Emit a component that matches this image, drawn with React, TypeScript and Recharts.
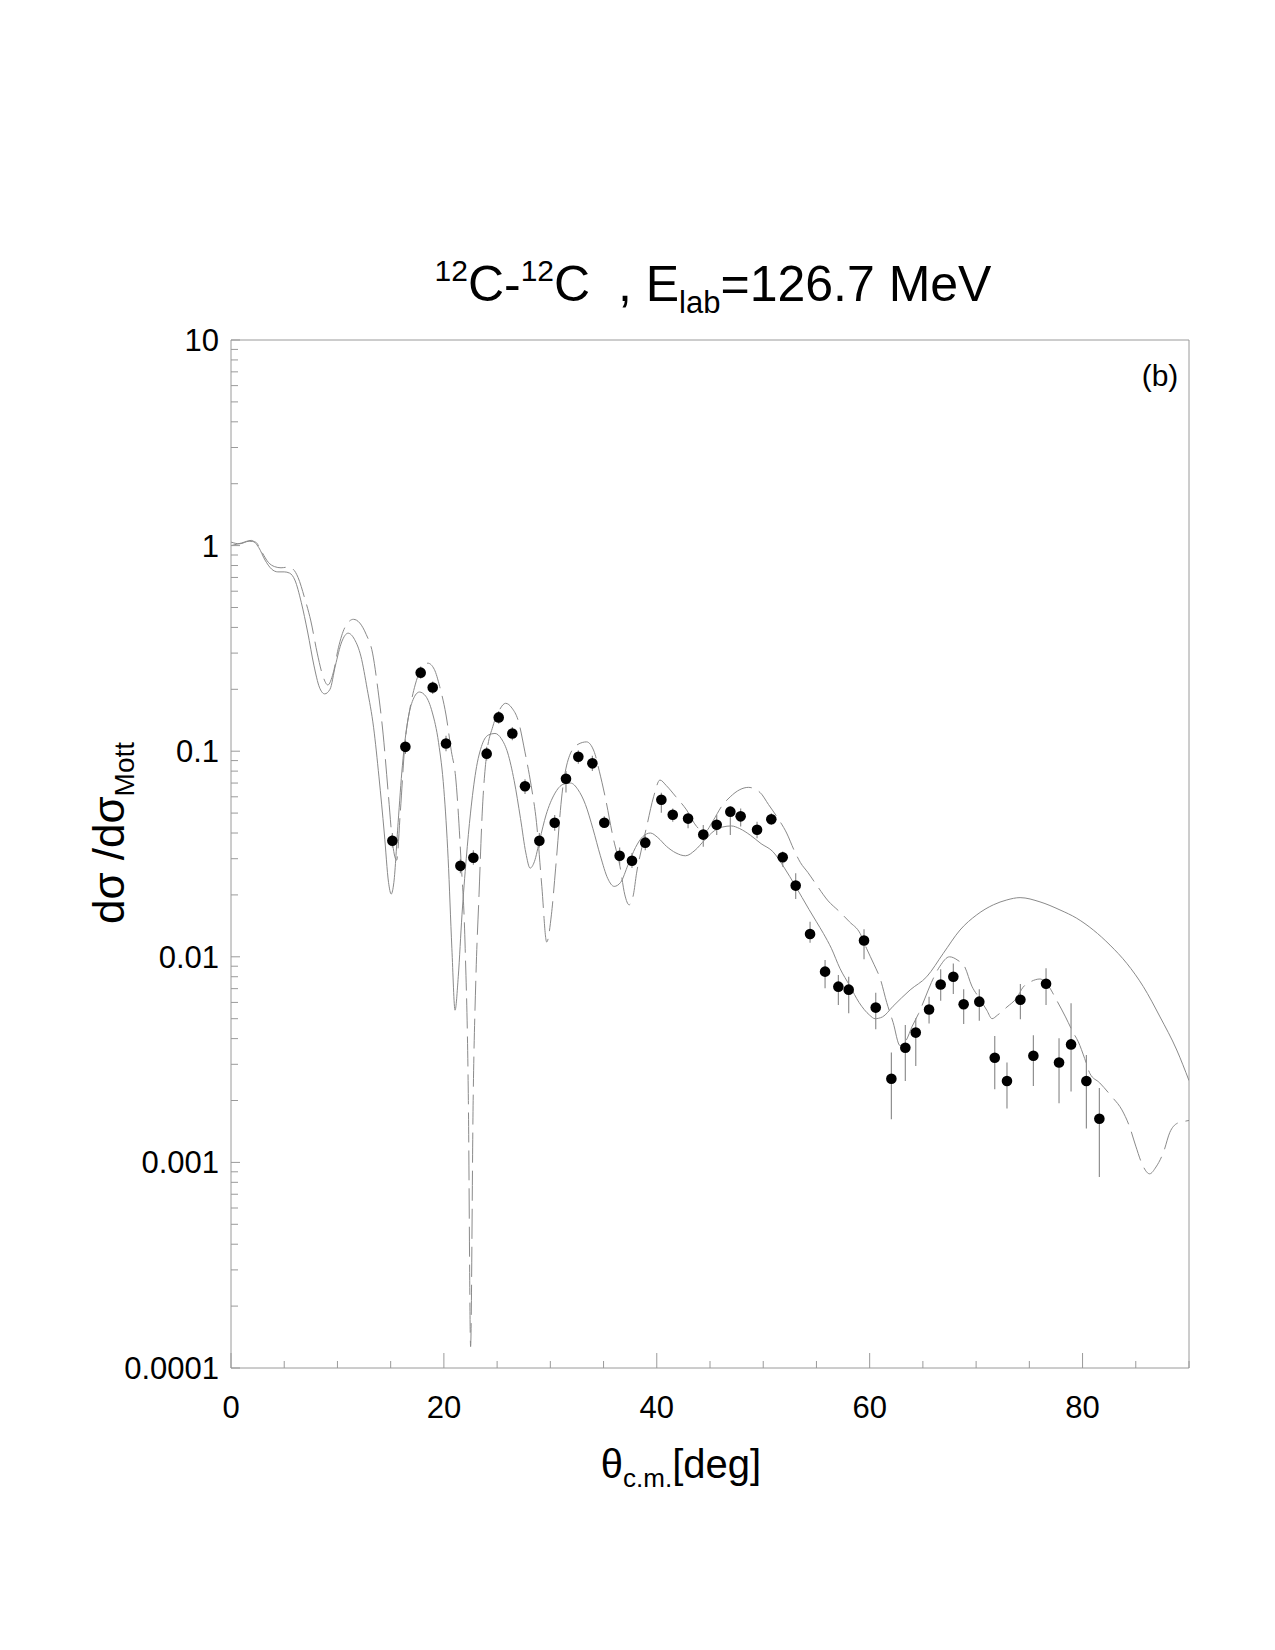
import React from 'react';
import { ComposedChart, Line, Scatter, XAxis, YAxis, ErrorBar, ReferenceLine } from 'recharts';

// ---------- data ----------
// Solid curve (theta [deg], dsigma/dsigma_Mott)
const solidTheta = [0, 1.0, 1.9, 2.6, 3.2, 3.8, 4.4, 5.0, 5.5, 6.0, 6.6, 7.2, 7.8, 8.3, 8.8, 9.3, 9.8, 10.4, 11.0, 11.6, 12.2, 12.8, 13.4, 13.9, 14.4, 14.8, 15.05, 15.3, 15.7, 16.1, 16.6, 17.1, 17.7, 18.3, 18.9, 19.5, 20.0, 20.4, 20.75, 21.05, 21.35, 21.7, 22.1, 22.5, 23.0, 23.6, 24.2, 24.8, 25.4, 26.0, 26.6, 27.2, 27.7, 28.1, 28.5, 29.0, 29.6, 30.4, 31.2, 31.9, 32.6, 33.3, 34.0, 34.7, 35.4, 36.0, 36.6, 37.3, 38.0, 38.7, 39.4, 40.1, 40.9, 41.8, 42.7, 43.6, 44.5, 45.4, 46.2, 47.0, 47.8, 48.8, 49.8, 50.9, 52.0, 53.0, 54.3, 55.0, 55.65, 56.4, 57.2, 58.15, 59.0, 60.0, 60.5, 61.2, 62.2, 63.8, 65.36, 66.92, 68.49, 70.06, 71.62, 72.88, 74.13, 76.0, 77.88, 79.45, 81.01, 82.58, 84.15, 85.71, 87.28, 88.85, 90.0];
const solidValue = [1.0, 1.03, 1.06, 0.98, 0.85, 0.77, 0.745, 0.745, 0.735, 0.68, 0.53, 0.38, 0.26, 0.205, 0.19, 0.2, 0.26, 0.34, 0.375, 0.35, 0.29, 0.2, 0.13, 0.075, 0.04, 0.023, 0.0202, 0.023, 0.045, 0.085, 0.14, 0.178, 0.194, 0.185, 0.155, 0.11, 0.065, 0.03, 0.011, 0.0055, 0.008, 0.016, 0.03, 0.05, 0.08, 0.108, 0.12, 0.122, 0.115, 0.098, 0.072, 0.047, 0.032, 0.027, 0.029, 0.037, 0.049, 0.062, 0.069, 0.07, 0.065, 0.055, 0.042, 0.031, 0.024, 0.022, 0.023, 0.028, 0.034, 0.0385, 0.04, 0.038, 0.0345, 0.032, 0.031, 0.033, 0.037, 0.041, 0.0428, 0.0433, 0.042, 0.039, 0.0355, 0.0325, 0.027, 0.0222, 0.017, 0.0148, 0.013, 0.011, 0.0088, 0.0072, 0.006, 0.0052, 0.005, 0.0051, 0.00575, 0.0069, 0.008, 0.0104, 0.0135, 0.016, 0.0179, 0.0189, 0.0194, 0.0185, 0.0169, 0.0154, 0.0135, 0.0114, 0.0093, 0.00716, 0.0051, 0.00352, 0.0025];

// Dashed curve
const dashedTheta = [0, 0.8, 1.7, 2.3, 2.9, 3.5, 4.1, 4.7, 5.3, 5.8, 6.3, 6.9, 7.5, 8.1, 8.6, 9.1, 9.6, 10.1, 10.7, 11.5, 12.1, 12.7, 13.3, 13.8, 14.3, 14.8, 15.2, 15.56, 15.9, 16.35, 16.8, 17.3, 17.8, 18.5, 19.1, 19.6, 20.2, 20.7, 21.1, 21.6, 22.0, 22.3, 22.51, 22.75, 23.0, 23.3, 23.6, 24.0, 24.6, 25.2, 25.8, 26.4, 27.0, 27.6, 28.2, 28.7, 29.2, 29.66, 30.1, 30.5, 31.1, 31.8, 32.6, 33.4, 34.1, 34.6, 35.15, 35.9, 36.55, 37.0, 37.4, 37.8, 38.1, 38.6, 39.05, 39.7, 40.3, 40.9, 41.8, 42.8, 43.75, 44.5, 45.3, 46.1, 46.9, 47.8, 48.6, 49.7, 50.5, 51.4, 52.2, 52.9, 53.5, 54.2, 55.1, 56.1, 57.1, 58.1, 59.1, 59.7, 60.4, 61.0, 61.6, 62.2, 62.85, 63.4, 64.0, 64.6, 65.2, 65.8, 66.6, 67.5, 68.3, 68.9, 69.6, 70.3, 71.0, 71.5, 72.0, 72.9, 73.8, 74.4, 75.2, 76.0, 76.8, 77.6, 78.4, 79.1, 79.6, 80.2, 80.7, 81.6, 82.7, 83.7, 84.4, 85.0, 85.6, 86.3, 86.9, 87.6, 88.2, 88.9, 89.5, 90.0];
const dashedValue = [1.04, 1.02, 1.05, 1.04, 0.93, 0.83, 0.79, 0.78, 0.785, 0.77, 0.7, 0.56, 0.43, 0.3, 0.235, 0.21, 0.24, 0.32, 0.4, 0.438, 0.42, 0.37, 0.3, 0.2, 0.12, 0.06, 0.035, 0.0295, 0.05, 0.11, 0.16, 0.21, 0.248, 0.268, 0.25, 0.207, 0.15, 0.1, 0.075, 0.03, 0.011, 0.002, 0.000127, 0.002, 0.0077, 0.02, 0.05, 0.095, 0.132, 0.158, 0.171, 0.162, 0.14, 0.1, 0.068, 0.045, 0.022, 0.0118, 0.016, 0.027, 0.062, 0.095, 0.108, 0.111, 0.1, 0.08, 0.06, 0.038, 0.0274, 0.02, 0.0179, 0.02, 0.0255, 0.034, 0.043, 0.06, 0.0724, 0.068, 0.06, 0.0518, 0.043, 0.0405, 0.046, 0.054, 0.06, 0.065, 0.0667, 0.063, 0.055, 0.047, 0.04, 0.033, 0.0287, 0.0257, 0.022, 0.0187, 0.0167, 0.0148, 0.013, 0.011, 0.0092, 0.0078, 0.006, 0.0048, 0.0037, 0.0039, 0.0046, 0.0053, 0.0063, 0.0075, 0.009, 0.01, 0.0096, 0.009, 0.0072, 0.0063, 0.0055, 0.005, 0.0052, 0.0057, 0.0063, 0.0071, 0.0076, 0.0078, 0.0072, 0.0061, 0.0051, 0.0043, 0.00386, 0.0032, 0.0027, 0.00244, 0.0021, 0.0018, 0.0015, 0.0012, 0.00098, 0.00088, 0.00095, 0.00112, 0.0014, 0.00155, 0.00158, 0.0016];

// Experimental points with error bars (lower / upper values)
const expTheta = [15.16, 16.38, 17.82, 18.95, 20.2, 21.55, 22.77, 24.02, 25.15, 26.43, 27.62, 28.97, 30.41, 31.47, 32.63, 33.95, 35.07, 36.51, 37.67, 38.92, 40.43, 41.5, 42.94, 44.37, 45.63, 46.91, 47.88, 49.42, 50.76, 51.83, 53.05, 54.4, 55.81, 57.06, 58.03, 59.47, 60.57, 62.04, 63.35, 64.33, 65.58, 66.67, 67.86, 68.83, 70.3, 71.75, 72.9, 74.16, 75.38, 76.57, 77.79, 78.92, 80.36, 81.58];
const expValue = [0.0367, 0.105, 0.241, 0.204, 0.109, 0.0277, 0.0303, 0.0973, 0.146, 0.122, 0.0675, 0.0367, 0.0449, 0.0735, 0.094, 0.0873, 0.0449, 0.031, 0.0293, 0.0359, 0.0581, 0.0491, 0.047, 0.0393, 0.0439, 0.0508, 0.0482, 0.0415, 0.0467, 0.0305, 0.0222, 0.0129, 0.00847, 0.00716, 0.00692, 0.012, 0.00566, 0.00255, 0.00361, 0.00428, 0.00554, 0.00733, 0.008, 0.00588, 0.00605, 0.00323, 0.00249, 0.00618, 0.0033, 0.0074, 0.00306, 0.00375, 0.00249, 0.00163];
const expLow = [0.034, 0.097, 0.225, 0.19, 0.1, 0.0255, 0.028, 0.09, 0.136, 0.113, 0.062, 0.034, 0.041, 0.063, 0.087, 0.08, 0.0424, 0.028, 0.027, 0.033, 0.0502, 0.0454, 0.0422, 0.0343, 0.0391, 0.0391, 0.043, 0.0377, 0.0438, 0.0274, 0.0191, 0.0117, 0.00703, 0.00583, 0.00531, 0.00973, 0.00444, 0.00162, 0.00249, 0.00294, 0.00474, 0.00612, 0.00659, 0.00471, 0.00489, 0.00227, 0.00183, 0.00497, 0.00235, 0.00583, 0.00194, 0.00221, 0.00146, 0.00085];
const expHigh = [0.04, 0.114, 0.258, 0.218, 0.119, 0.03, 0.033, 0.105, 0.157, 0.131, 0.073, 0.04, 0.049, 0.08, 0.101, 0.095, 0.0482, 0.034, 0.032, 0.039, 0.0628, 0.0527, 0.0499, 0.0438, 0.0489, 0.0537, 0.0527, 0.0454, 0.0499, 0.0325, 0.0255, 0.0148, 0.00965, 0.00815, 0.008, 0.0136, 0.00668, 0.00342, 0.00466, 0.00502, 0.0064, 0.00869, 0.00929, 0.00695, 0.00695, 0.00412, 0.00306, 0.00738, 0.00415, 0.00879, 0.00402, 0.00594, 0.00333, 0.0023];

// Axes ticks and labels
const xTicks = [0, 5, 10, 15, 20, 25, 30, 35, 40, 45, 50, 55, 60, 65, 70, 75, 80, 85, 90];
const xLabelTicks = [0, 20, 40, 60, 80];
const yMajorTicks = [0.0001, 0.001, 0.01, 0.1, 1, 10];
const yMajorLabels = ['0.0001', '0.001', '0.01', '0.1', '1', '10'];
const yMinorFactors = [2, 3, 4, 5, 6, 7, 8, 9];

// ---------- build tables ----------
const solidData = solidTheta.map((x, i) => ({ x, y: solidValue[i] }));
const dashedData = dashedTheta.map((x, i) => ({ x, y: dashedValue[i] }));
const expData = expTheta.map((x, i) => ({
  x,
  y: expValue[i],
  err: [expValue[i] - expLow[i], expHigh[i] - expValue[i]],
}));
const yTicks: number[] = [...yMajorTicks];
yMajorTicks.slice(0, -1).forEach((m) => yMinorFactors.forEach((f) => yTicks.push(m * f)));

// ---------- style ----------
const W = 1275;
const H = 1650;
const FONT = "'Liberation Sans', Arial, Helvetica, sans-serif";
const AXIS = '#9a9a9a';
const CURVE = '#8a8a8a';

const XTick = (props: any) => {
  const { x, y, payload } = props;
  const v = payload.value;
  const major = xLabelTicks.includes(v);
  return (
    <g>
      <line x1={x} y1={y} x2={x} y2={y - (major ? 15 : 7)} stroke={AXIS} strokeWidth={1} />
      {major && (
        <text x={x} y={y + 50} textAnchor="middle" fontSize={31} fontFamily={FONT} fill="#000">
          {String(v)}
        </text>
      )}
    </g>
  );
};

const YTick = (props: any) => {
  const { x, y, payload } = props;
  const v = payload.value;
  const idx = yMajorTicks.findIndex((m) => Math.abs(m - v) / m < 1e-6);
  const major = idx >= 0;
  return (
    <g>
      <line x1={x} y1={y} x2={x + (major ? 9 : 7)} y2={y} stroke={AXIS} strokeWidth={1} />
      {major && (
        <text x={x - 12} y={y + 11} textAnchor="end" fontSize={31} fontFamily={FONT} fill="#000">
          {yMajorLabels[idx]}
        </text>
      )}
    </g>
  );
};

const Dot = (props: any) => {
  const { cx, cy } = props;
  if (cx == null || cy == null) return null;
  return <circle cx={cx} cy={cy} r={5.3} fill="#000" />;
};

export default function App() {
  return (
    <div style={{ position: 'absolute', left: 0, top: 0, width: W, height: H, background: '#fff' }}>
      <ComposedChart width={W} height={H} margin={{ top: 340, right: 86, bottom: 222, left: 131 }}>
        <XAxis
          type="number"
          dataKey="x"
          domain={[0, 90]}
          ticks={xTicks}
          interval={0}
          tick={XTick}
          tickLine={false}
          tickSize={0}
          tickMargin={0}
          height={60}
          axisLine={{ stroke: AXIS, strokeWidth: 1 }}
          allowDataOverflow
        />
        <YAxis
          type="number"
          dataKey="y"
          scale="log"
          domain={[0.0001, 10]}
          ticks={yTicks}
          interval={0}
          tick={YTick}
          tickLine={false}
          tickSize={0}
          tickMargin={0}
          width={100}
          axisLine={{ stroke: AXIS, strokeWidth: 1 }}
          allowDataOverflow
        />
        <ReferenceLine y={10} stroke={AXIS} strokeWidth={1} />
        <ReferenceLine x={90} stroke={AXIS} strokeWidth={1} />
        <Line
          data={solidData}
          dataKey="y"
          type="monotone"
          stroke={CURVE}
          strokeWidth={1}
          dot={false}
          activeDot={false}
          isAnimationActive={false}
        />
        <Line
          data={dashedData}
          dataKey="y"
          type="monotone"
          stroke={CURVE}
          strokeWidth={1}
          strokeDasharray="30 8"
          dot={false}
          activeDot={false}
          isAnimationActive={false}
        />
        <Scatter data={expData} dataKey="y" shape={Dot} isAnimationActive={false}>
          <ErrorBar
            dataKey="err"
            direction="y"
            width={0}
            stroke="#8f8f8f"
            strokeWidth={1.2}
            isAnimationActive={false}
          />
        </Scatter>
      </ComposedChart>
      <svg
        width={W}
        height={H}
        style={{ position: 'absolute', left: 0, top: 0, pointerEvents: 'none' }}
        fontFamily={FONT}
      >
        <text x={713} y={301} textAnchor="middle" fontSize={50} fill="#000">
          <tspan fontSize={30} dy={-20}>12</tspan>
          <tspan dy={20}>C-</tspan>
          <tspan fontSize={30} dy={-20}>12</tspan>
          <tspan dy={20}>{'C\u00A0\u00A0, E'}</tspan>
          <tspan fontSize={31} dy={12}>lab</tspan>
          <tspan dy={-12}>=126.7 MeV</tspan>
        </text>
        <text x={1160} y={386} textAnchor="middle" fontSize={30} fill="#000">(b)</text>
        <text x={681} y={1478} textAnchor="middle" fontSize={40} fill="#000">
          <tspan>θ</tspan>
          <tspan fontSize={26} dy={9}>c.m.</tspan>
          <tspan dy={-9}>[deg]</tspan>
        </text>
        <text transform="translate(124,833) rotate(-90)" textAnchor="middle" fontSize={44} fill="#000">
          <tspan>dσ /dσ</tspan>
          <tspan fontSize={28} dy={10}>Mott</tspan>
        </text>
      </svg>
    </div>
  );
}
